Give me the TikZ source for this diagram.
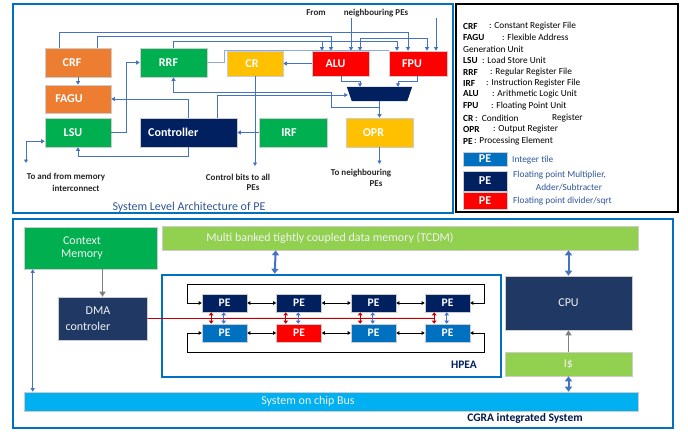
\documentclass[tikz,border=0pt]{standalone}
\usepackage{fontspec}
\setmainfont{Carlito}
\usetikzlibrary{arrows.meta,calc}
\definecolor{pblue}{HTML}{0070C0}
\definecolor{wblue}{HTML}{4472C4}
\definecolor{orng}{HTML}{ED7D31}
\definecolor{grn}{HTML}{00B050}
\definecolor{ylw}{HTML}{FFC000}
\definecolor{rd}{HTML}{FF0000}
\definecolor{navy}{HTML}{002060}
\definecolor{dnavy}{HTML}{203864}
\definecolor{lgrn}{HTML}{92D050}
\definecolor{cyn}{HTML}{00B0F0}
\definecolor{ttl}{HTML}{2F5597}
\definecolor{dkred}{HTML}{C00000}
\definecolor{gry}{HTML}{7F7F7F}
\begin{document}
\begin{tikzpicture}[x=1pt,y=-1pt,
  box/.style={draw=black!20,line width=0.6pt,inner sep=0pt},
  lbl/.style={text=white,font=\fontsize{12}{12}\selectfont\bfseries,inner sep=0pt},
  wlbl/.style={text=white!95!black,font=\fontsize{12}{13}\selectfont,inner sep=0pt,align=center},
  wire/.style={draw=wblue,line width=0.9pt},
  arr/.style={wire,-{Triangle[length=3.5pt,width=4pt]}},
  darr/.style={wire,{Triangle[length=3.5pt,width=4pt]}-{Triangle[length=3.5pt,width=4pt]}},
  bigd/.style={draw=wblue,line width=2pt,{Triangle[length=5pt,width=7pt]}-{Triangle[length=5pt,width=7pt]}},
  garr/.style={draw=gry,line width=1.3pt,-{Triangle[length=5pt,width=6pt]}},
  harr/.style={draw=black,line width=0.8pt,{Triangle[length=3pt,width=3.5pt]}-{Triangle[length=3pt,width=3.5pt]}},
  varr/.style={line width=1.3pt,{Triangle[length=3pt,width=4.5pt]}-{Triangle[length=3pt,width=4.5pt]}},
  note/.style={font=\fontsize{9}{10}\selectfont\bfseries,text=black!85,inner sep=0pt},
  leg/.style={font=\fontsize{9.3}{10}\selectfont,anchor=west,inner sep=0pt},
  legb/.style={font=\fontsize{9.3}{10}\selectfont\bfseries,anchor=west,inner sep=0pt},
  legt/.style={font=\fontsize{9.3}{10}\selectfont,text=ttl,inner sep=0pt},
  pe/.style={box,minimum width=45,minimum height=18,text=white,font=\fontsize{11.5}{12}\selectfont\bfseries}
]
\useasboundingbox (0,0) rectangle (688,434);
\fill[white] (0,0) rectangle (688,434);

% ---------- panels ----------
\node[draw=pblue,line width=2.6pt,minimum width=440,minimum height=209,inner sep=0pt] (top) at (233,108.5) {};
\node[draw=black,line width=2.6pt,minimum width=222,minimum height=208,inner sep=0pt] (legend) at (567,108) {};
\node[draw=pblue,line width=2.6pt,minimum width=660,minimum height=209,inner sep=0pt] (bottom) at (343,323.5) {};

% ---------- top panel boxes ----------
\node[box,fill=orng,minimum width=66,minimum height=29,label={[lbl,xshift=-6pt]center:CRF}] (crf) at (78,62.5) {};
\node[box,fill=orng,minimum width=66,minimum height=28,label={[lbl,xshift=-9pt]center:FAGU}] (fagu) at (78,99) {};
\node[box,fill=grn,minimum width=66,minimum height=29,label={[lbl,xshift=-5pt]center:LSU}] (lsu) at (78,132.5) {};
\node[box,fill=grn,minimum width=67,minimum height=29,label={[lbl,xshift=-5pt]center:RRF}] (rrf) at (173.5,62.5) {};
\node[box,fill=ylw,minimum width=56,minimum height=25,label={[lbl,xshift=-3pt]center:CR}] (cr) at (255,63.5) {};
\node[box,fill=rd,minimum width=57,minimum height=25,label={[lbl,xshift=-5pt]center:ALU}] (alu) at (340.5,63.5) {};
\node[box,fill=rd,minimum width=58,minimum height=25,label={[lbl,xshift=-6pt]center:FPU}] (fpu) at (418,63.5) {};
\node[box,fill=navy,minimum width=97,minimum height=29] (ctrl) at (188.5,132.5) {};
\node[lbl,anchor=west] (ctrlt) at (148,132.5) {Controller};
\node[box,fill=grn,minimum width=68,minimum height=29,label={[lbl,xshift=-4pt]center:IRF}] (irf) at (293,132.5) {};
\node[box,fill=ylw,minimum width=67,minimum height=29,label={[lbl,xshift=-6pt]center:OPR}] (opr) at (379.5,132.5) {};
\node[minimum width=65,minimum height=14,inner sep=0pt] (mux) at (379.5,94) {};
\fill[navy] (mux.north west) -- (mux.north east) -- ($(mux.south east)+(-5,0)$) -- ($(mux.south west)+(5,0)$) -- cycle;

% ---------- top panel texts ----------
\node[note] (from) at (316,13) {From};
\node[note] (nbr) at (376,13) {neighbouring PEs};
\node[note,align=center] (mem1) at (66,177) {To and from memory};
\node[note] (mem2) at (76,188) {interconnect};
\node[note] (cb1) at (238,177) {Control bits to all};
\node[note] (cb2) at (253,188) {PEs};
\node[note] (tn1) at (361,173) {To neighbouring};
\node[note] (tn2) at (376,184) {PEs};
\node[font=\fontsize{12}{12}\selectfont,text=ttl,inner sep=0pt] (ttl1) at (189,207) {System Level Architecture of PE};

% ---------- top panel wires ----------
\coordinate (nb1) at (351,18);
\coordinate (nb2) at (436,18);
\coordinate (memc) at (26,163);
\coordinate (cbc) at (255,166);
\coordinate (tnc) at (379.5,164);
\draw[arr] (nb1) -- (nb1 |- alu.north);
\draw[arr] (nb2) -- (nb2 |- fpu.north);
\draw[arr] ($(crf.north)+(-19,0)$) -- ++(0,-15) -| ($(fpu.north)+(-10,0)$);
\draw[arr] ($(crf.north)+(19,0)$) -- ++(0,-11) -| ($(alu.north)+(-9.5,0)$);
\draw[arr] (rrf.north) -- ++(0,-6) -| ($(fpu.north)+(-21,0)$);
\draw[arr] ($(alu.north)+(-18.5,-9)$) -- ($(alu.north)+(-18.5,0)$);
\draw[darr] ($(alu.north)+(19.5,0)$) -- ++(0,-12) -| ($(fpu.north)+(9,0)$);
\draw[wire,draw=wblue!60] (rrf.east) -- ++(17,0) |- (fpu.north west);
\draw[arr] (crf.south) -- (fagu.north);
\draw[arr] (lsu.east) -- ++(15,0) |- (rrf.west);
\draw[arr] (ctrl.north) |- (fagu.east);
\draw[arr] (ctrl.south) -- ++(0,9) -| (lsu.south);
\draw[darr] (memc) |- ($(lsu.south west)+(0,-6)$);
\draw[arr] (cr.south) -- (cbc);
\draw[arr] (irf.west) -- (ctrl.east);
\draw[arr] (alu.west) -- (cr.east);
\draw[arr] ($(alu.south)+(1,0)$) -- ++(0,5) -| ($(mux.north)+(-19.5,0)$);
\draw[arr] ($(fpu.south)+(-1,0)$) -- ++(0,5) -| ($(mux.north)+(18.5,0)$);
\draw[arr] (mux.south) -- (opr.north);
\draw[arr] (opr.south) -- (tnc);
\draw[arr] ($(mux.south)+(0,6)$) -| ($(mux.west)+(-15,-2)$) -| (rrf.south);
\draw[arr] ($(ctrl.north)+(28.5,0)$) |- ($(mux.west)+(1,1)$);

% ---------- legend ----------
\node[legb] (a1) at (463,26) {CRF};  \node[leg] (b1) at (489,26) {: Constant Register File};
\node[legb] (a2) at (463,37) {FAGU}; \node[leg] (b2) at (502,37) {: Flexible Address};
\node[leg] (b2b) at (463,49) {Generation Unit};
\node[legb] (a3) at (463,60) {LSU};  \node[leg] (b3) at (482,60) {: Load Store Unit};
\node[legb] (a4) at (463,72) {RRF};  \node[leg] (b4) at (490,72) {: Regular Register File};
\node[legb] (a5) at (463,83) {IRF};  \node[leg] (b5) at (486,83) {: Instruction Register File};
\node[legb] (a6) at (463,94) {ALU};  \node[leg] (b6) at (492,94) {: Arithmetic Logic Unit};
\node[legb] (a7) at (463,106) {FPU}; \node[leg] (b7) at (491,106) {: Floating Point Unit};
\node[legb] (a8) at (463,118) {CR};  \node[leg] (b8) at (475,118) {:\ \ Condition}; \node[leg] (b8b) at (552,118) {Register};
\node[legb] (a9) at (463,129) {OPR}; \node[leg] (b9) at (493,129) {: Output Register};
\node[legb] (a10) at (463,141) {PE}; \node[leg] (b10) at (474,141) {: Processing Element};
\node[box,fill=pblue,minimum width=44,minimum height=14,text=white,font=\fontsize{12}{12}\selectfont\bfseries] (lp1) at (485,159) {PE};
\node[box,fill=navy,minimum width=44,minimum height=20,text=white,font=\fontsize{12}{12}\selectfont\bfseries] (lp2) at (485,181) {PE};
\node[box,fill=rd,minimum width=44,minimum height=17,text=white,font=\fontsize{12}{12}\selectfont\bfseries] (lp3) at (485,200.5) {PE};
\node[legt,anchor=west] (t1) at (512,160) {Integer tile};
\node[legt,anchor=west] (t2) at (513,175) {Floating point Multiplier,};
\node[legt] (t3) at (569,187) {Adder/Subtracter};
\node[legt,anchor=west] (t4) at (513,201) {Floating point divider/sqrt};

% ---------- bottom panel ----------
\node[box,fill=grn,minimum width=133,minimum height=42] (ctx) at (90.5,248) {};
\node[wlbl] (ctxt) at (82,248) {Context\\Memory};
\node[box,fill=lgrn,minimum width=476,minimum height=24] (tcdm) at (400,238) {};
\node[wlbl] (tcdmt) at (330,238) {Multi banked tightly coupled data memory (TCDM)};
\node[box,fill=dnavy,minimum width=89,minimum height=43] (dma) at (102.5,318.5) {};
\node[wlbl] (dmat1) at (98,311) {DMA};
\node[wlbl] (dmat2) at (88,326) {controler};
\node[draw=pblue,line width=2.6pt,minimum width=339,minimum height=102,inner sep=0pt] (hpea) at (331.5,326) {};
\node[font=\fontsize{11.5}{12}\selectfont\bfseries,text=navy,inner sep=0pt] (hpeat) at (464,365) {HPEA};
\node[box,fill=dnavy,minimum width=127,minimum height=54] (cpu) at (568.5,303) {};
\node[wlbl] (cput) at (568.5,303) {CPU};
\node[box,fill=lgrn,minimum width=127,minimum height=24] (ic) at (568.5,364) {};
\node[wlbl] (ict) at (568.5,364) {I\$};
\node[box,fill=cyn,minimum width=614,minimum height=19] (bus) at (331,401.5) {};
\node[wlbl] (bust) at (308,401.5) {System on chip Bus};
\node[font=\fontsize{11.5}{12}\selectfont\bfseries,text=navy!80!black,inner sep=0pt] (cgra) at (525,418) {CGRA integrated System};

% PEs
\node[pe,fill=navy] (p11) at (224.5,303) {PE};
\node[pe,fill=navy] (p12) at (299,303) {PE};
\node[pe,fill=navy] (p13) at (373.5,303) {PE};
\node[pe,fill=navy] (p14) at (447.5,303) {PE};
\node[pe,fill=pblue] (p21) at (224.5,333) {PE};
\node[pe,fill=rd] (p22) at (299,333) {PE};
\node[pe,fill=pblue] (p23) at (373.5,333) {PE};
\node[pe,fill=pblue] (p24) at (447.5,333) {PE};

\foreach \a/\b in {p11/p12,p12/p13,p13/p14,p21/p22,p22/p23,p23/p24}
  \draw[harr] (\a.east) -- (\b.west);
\draw[harr] (p11.west) -- ++(-14,0) -- ++(0,-19) -| ($(p14.east)+(14,0)$) -- (p14.east);
\draw[harr] (p21.west) -- ++(-14,0) -- ++(0,19) -| ($(p24.east)+(14,0)$) -- (p24.east);

\coordinate (redend) at ($(p14.south west)+(10,6)$);
\draw[draw=dkred,line width=0.9pt] (dma.east) -- (redend);
\foreach \t/\b in {p11/p21,p12/p22,p13/p23,p14/p24}{
  \draw[varr,draw=dkred,fill=dkred] ($(\t.south west)+(9.5,0)$) -- ($(\b.north west)+(9.5,0)$);
  \draw[varr,draw=wblue,fill=wblue] ($(\t.south west)+(22,0)$) -- ($(\b.north west)+(22,0)$);
}

% bottom connectors
\draw[garr] (dma.north |- ctx.south) -- (dma.north);
\draw[darr] ($(ctx.south west)+(9,0)$) -- ($(bus.north west)+(9,0)$);
\draw[bigd] ($(tcdm.south west)+(114,0)$) -- ($(hpea.north west)+(114,0)$);
\draw[bigd] (cpu.north |- tcdm.south) -- (cpu.north);
\draw[garr] (ic.north) -- (cpu.south);
\draw[bigd] (ic.south) -- (ic.south |- bus.north);
\end{tikzpicture}
\end{document}
